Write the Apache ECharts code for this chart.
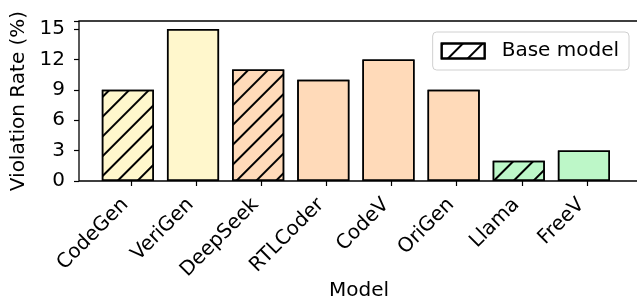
<!DOCTYPE html>
<html>
<head>
<meta charset="utf-8">
<script src="https://cdn.jsdelivr.net/npm/echarts@6/dist/echarts.min.js"></script>
<style>
  html, body { margin: 0; padding: 0; background: #fff; }
  #chart { width: 637px; height: 303px; }
</style>
</head>
<body>
<div id="chart"></div>
<script>
const models = ['CodeGen', 'VeriGen', 'DeepSeek', 'RTLCoder', 'CodeV', 'OriGen', 'Llama', 'FreeV'];
const violationRate = [9, 15, 11, 10, 12, 9, 2, 3];
const barColors = ['#fff7cc', '#fff7cc', '#ffdab9', '#ffdab9', '#ffdab9', '#ffdab9', '#bdf7c8', '#bdf7c8'];
const isBase = [true, false, true, false, false, false, true, false];
const yTicks = [0, 3, 6, 9, 12, 15];

const FONT = 'DejaVu Sans';
const FS = 20;

// matplotlib-like '//' hatch
const hatch = {
  symbol: 'rect',
  symbolSize: 1,
  color: '#000',
  dashArrayX: [1, 0],
  dashArrayY: [1.5, 11.5],
  rotation: -Math.PI / 4
};

const chart = echarts.init(document.getElementById('chart'));

chart.setOption({
  animation: false,
  backgroundColor: '#fff',
  textStyle: { fontFamily: FONT },
  grid: [
    // frame (axes box), right spine falls just outside the picture
    { left: 79, right: -2, top: 21, bottom: 122, outerBoundsMode: 'none', show: true, borderColor: '#000', borderWidth: 1.3, backgroundColor: 'transparent' },
    // bars
    { left: 98.4, right: 17.4, top: 21, bottom: 122, outerBoundsMode: 'none' }
  ],
  xAxis: [
    {
      gridIndex: 0, type: 'value', min: 0, max: 1,
      axisLine: { show: false }, axisTick: { show: false }, axisLabel: { show: false }, splitLine: { show: false },
      name: 'Model', nameLocation: 'middle', nameGap: 100,
      nameTextStyle: { fontFamily: FONT, fontSize: FS, color: '#000' }
    },
    {
      gridIndex: 1, type: 'category', data: models,
      axisLine: { show: false },
      axisTick: { show: true, alignWithLabel: true, length: 5, lineStyle: { color: '#000', width: 1.2 } },
      // padding on the right pushes text down-left like matplotlib's ha='right'
      axisLabel: { rotate: 45, margin: 15, padding: [0, 8, 0, 0], fontFamily: FONT, fontSize: FS, color: '#000', interval: 0 }
    }
  ],
  yAxis: [
    {
      gridIndex: 0, type: 'value', min: 0, max: 15.8, interval: 3,
      axisLine: { show: false },
      axisTick: { show: true, length: 5, lineStyle: { color: '#000', width: 1.2 } },
      axisLabel: {
        margin: 14, fontFamily: FONT, fontSize: FS, color: '#000',
        formatter: v => (yTicks.includes(v) ? String(v) : '')
      },
      splitLine: { show: false },
      name: 'Violation Rate (%)', nameLocation: 'middle', nameGap: 49, nameRotate: 90,
      nameTextStyle: { fontFamily: FONT, fontSize: FS, color: '#000' }
    },
    { gridIndex: 1, type: 'value', min: 0, max: 15.8, show: false }
  ],
  legend: {
    right: 8, top: 32,
    data: [{ name: 'Base model', icon: 'rect' }],
    itemWidth: 43, itemHeight: 15,
    padding: [9, 10, 9, 8],
    backgroundColor: '#fff',
    borderColor: '#d0d0d0', borderWidth: 1, borderRadius: 4,
    textStyle: { fontFamily: FONT, fontSize: FS, color: '#000', padding: [0, 0, 0, 12] }
  },
  series: [
    {
      type: 'bar', xAxisIndex: 1, yAxisIndex: 1,
      barWidth: '80%',
      data: violationRate.map((v, i) => ({
        value: v,
        itemStyle: {
          color: barColors[i],
          borderColor: '#000', borderWidth: 1.5,
          decal: isBase[i] ? hatch : { symbol: 'none' }
        }
      }))
    },
    {
      name: 'Base model', type: 'bar', xAxisIndex: 1, yAxisIndex: 1,
      data: [],
      itemStyle: { color: '#fff', borderColor: '#000', borderWidth: 1.5, decal: hatch }
    }
  ]
});
</script>
</body>
</html>
